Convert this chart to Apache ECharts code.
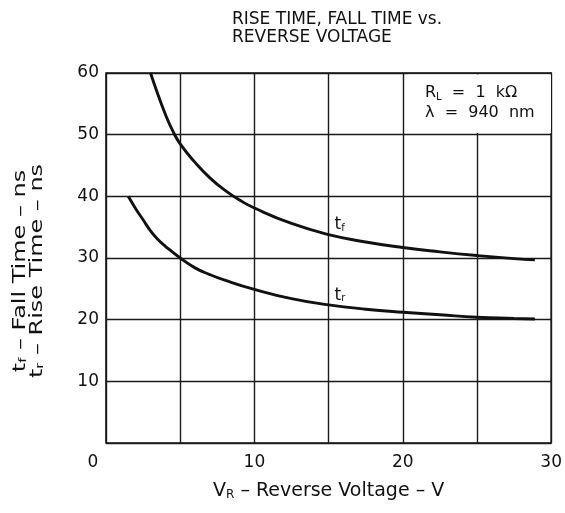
<!DOCTYPE html>
<html>
<head>
<meta charset="utf-8">
<script src="https://cdn.jsdelivr.net/npm/echarts@6/dist/echarts.min.js"></script>
<style>
html,body{margin:0;padding:0;background:#fff;}
#c{width:565px;height:513px;}
</style>
</head>
<body>
<div id="c"></div>
<script>
// Data
const vR_tf = [3, 3.5, 4, 4.5, 5, 6, 7, 8, 9, 10, 12.5, 15, 17.5, 20, 22.5, 25, 27.5, 28.9];
const tf    = [60, 56.5, 53.3, 50.6, 48.5, 45.5, 43, 41, 39.4, 38.1, 35.6, 33.8, 32.6, 31.7, 31, 30.4, 29.9, 29.7];
const vR_tr = [1.5, 2, 2.5, 3, 3.5, 4, 5, 6, 7, 8, 10, 12.5, 15, 17.5, 20, 22.5, 25, 27.5, 28.9];
const tr    = [40, 38, 36.2, 34.4, 33, 31.9, 30, 28.4, 27.3, 26.4, 24.9, 23.4, 22.4, 21.7, 21.2, 20.8, 20.4, 20.2, 20.1];
const xTickLabels = ['0', '10', '20', '30'];
const yTickLabels = ['10', '20', '30', '40', '50', '60'];
const labelAtV = 15;

const FONT = '"DejaVu Sans", "Liberation Sans", Arial, sans-serif';
const INK = '#111';

function seriesData(xs, ys, mainTxt, sub) {
  return xs.map((x, i) => {
    const item = { value: [x, ys[i]] };
    if (x === labelAtV) {
      item.label = {
        show: true,
        formatter: '{t|' + mainTxt + '}{s|' + sub + '}',
        position: [6, -18],
        rich: {
          t: { fontSize: 17, color: INK, fontFamily: FONT },
          s: { fontSize: 10, color: INK, fontFamily: FONT, verticalAlign: 'bottom', padding: [6, 0, 0, 0] }
        }
      };
    }
    return item;
  });
}

const chart = echarts.init(document.getElementById('c'), null, { renderer: 'canvas' });
chart.setOption({
  animation: false,
  backgroundColor: '#fff',
  title: {
    text: 'RISE TIME, FALL TIME vs.\nREVERSE VOLTAGE',
    left: 232, top: 10, padding: 0,
    textStyle: { fontFamily: FONT, fontSize: 17, fontWeight: 'normal', color: INK, lineHeight: 18.5 }
  },
  grid: { left: 106, right: 13, top: 73, bottom: 70, show: true, borderColor: INK, borderWidth: 1.6, backgroundColor: 'transparent' },
  xAxis: {
    type: 'value', min: 0, max: 30, interval: 5,
    name: '{m|V}{s|R}{m| – Reverse Voltage – V}',
    nameLocation: 'middle', nameGap: 39,
    nameTextStyle: {
      rich: {
        m: { fontFamily: FONT, fontSize: 19, color: INK },
        s: { fontFamily: FONT, fontSize: 12, color: INK, verticalAlign: 'bottom', padding: [5, 0, 0, 0] }
      }
    },
    axisLine: { show: false },
    axisTick: { show: false },
    axisLabel: {
      margin: 11,
      fontFamily: FONT, fontSize: 17, color: INK,
      formatter: v => {
        const s = String(v);
        if (!xTickLabels.includes(s)) return '';
        return v === 0 ? '{z|0}' : s;
      },
      rich: { z: { fontFamily: FONT, fontSize: 17, color: INK, padding: [0, 26, 0, 0] } }
    },
    splitLine: { show: true, lineStyle: { color: '#1a1a1a', width: 1.4 } }
  },
  yAxis: {
    type: 'value', min: 0, max: 60, interval: 10,
    axisLine: { show: false },
    axisTick: { show: false },
    axisLabel: {
      margin: 7,
      fontFamily: FONT, fontSize: 17, color: INK,
      formatter: v => yTickLabels.includes(String(v)) ? String(v) : ''
    },
    splitLine: { show: true, lineStyle: { color: '#1a1a1a', width: 1.4 } }
  },
  graphic: [
    {
      // y-axis title (rotated, in the reference's wide lettering)
      type: 'text', x: 29, y: 271, rotation: Math.PI / 2, scaleX: 1.33, scaleY: 1,
      style: {
        text: '{m|t}{s|f}{m| – Fall Time – ns}\n{m|t}{s|r}{m| – Rise Time – ns}',
        x: 0, y: 0, align: 'center', verticalAlign: 'middle',
        rich: {
          m: { fontFamily: FONT, fontSize: 18, fill: INK, lineHeight: 17 },
          s: { fontFamily: FONT, fontSize: 11, fill: INK, lineHeight: 17, verticalAlign: 'bottom' }
        }
      }
    },
    {
      type: 'rect', left: 408, top: 74.5, z: 50,
      shape: { width: 143, height: 58.5 },
      style: { fill: '#fff' }
    },
    {
      type: 'text', left: 425, top: 85, z: 51,
      style: {
        text: '{m|R}{s|L}{m|  =  1  kΩ}\n{m|λ  =  940  nm}',
        rich: {
          m: { fontFamily: FONT, fontSize: 16, fill: INK, lineHeight: 19.5 },
          s: { fontFamily: FONT, fontSize: 10, fill: INK, lineHeight: 19.5, verticalAlign: 'bottom' }
        }
      }
    }
  ],
  series: [
    {
      name: 'tf', type: 'line', smooth: 0.5,
      showSymbol: true, symbol: 'circle', symbolSize: 0,
      lineStyle: { color: INK, width: 2.9 },
      itemStyle: { color: INK },
      data: seriesData(vR_tf, tf, 't', 'f')
    },
    {
      name: 'tr', type: 'line', smooth: 0.5,
      showSymbol: true, symbol: 'circle', symbolSize: 0,
      lineStyle: { color: INK, width: 2.9 },
      itemStyle: { color: INK },
      data: seriesData(vR_tr, tr, 't', 'r')
    }
  ]
});
</script>
</body>
</html>
